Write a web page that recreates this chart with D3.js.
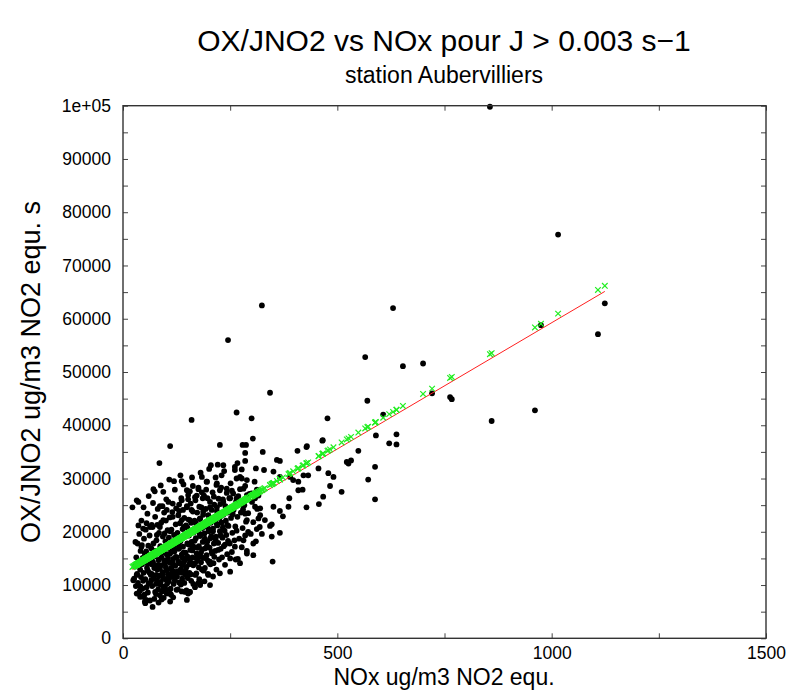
<!DOCTYPE html>
<html><head><meta charset="utf-8">
<script src="https://cdn.jsdelivr.net/npm/d3@7"></script>
<style>
body{margin:0;background:#fff}
svg{display:block}
text{font-family:"Liberation Sans",Arial,Helvetica,sans-serif;fill:#000}
</style>
</head><body>
<svg id="chart" width="786" height="690"></svg>
<script>
// ---------- data ----------
const titleText = "OX/JNO2 vs NOx pour J > 0.003 s\u22121";
const subtitleText = "station Aubervilliers";
const xTitle = "NOx ug/m3 NO2 equ.";
const yTitle = "OX/JNO2 ug/m3 NO2 equ. s";

const xTicks = [0,250,500,750,1000,1250,1500];
const xLabels = [0,500,1000,1500];
const yTicks = [0,5000,10000,15000,20000,25000,30000,35000,40000,45000,50000,55000,60000,65000,70000,75000,80000,85000,90000,95000,100000];
const yLabels = [0,10000,20000,30000,40000,50000,60000,70000,80000,90000,100000];

// linear regression line (red) : [intercept, slope]
const regCoef = [11850, 47.4];
// fitted values (green crosses) : [intercept, slope]
const fitCoef = [12340, 47.9];

// observations [NOx, OX/JNO2]
const outliers = [
[856,99800],[1015,75800],[324,62500],[630,62000],[245,56000],[565,52800],[1124,62900],[975,58800],
[1108,57100],[653,51100],[700,51600],[721,46000],[767,44900],[763,45300],[860,40800],[961,42800]
];
const midPoints = [
[343,46100],[300,41300],[477,41300],[570,44600],[607,42000],[638,38300],[621,36600],[638,36400],
[590,38100],[465,37100],[303,37500],[279,36300],[429,36100],[407,35200],[326,35000],[549,35200],
[522,33100],[532,33400],[588,32200],[359,33500],[366,33300],[285,33300],[310,31900],[329,31600],
[456,31900],[479,31000],[491,30300],[277,30000],[572,29800],[351,31300],[366,30300],[390,30300],
[397,29700],[421,30600],[432,30600],[409,29400],[419,27900],[409,27800],[483,28600],[510,27500],
[588,26100],[467,26600],[457,25200],[428,24600],[388,26300],[386,24700],[366,23900],[373,22900],
[351,24700],[347,21400],[343,21100],[316,22500],[304,17800],[304,15600],[349,14400],[366,19800],
[347,19100],[324,19600],[312,20500],[289,22200],[320,23100],[331,22200],[285,23400],[308,24700],
[320,24400],[289,26600],[300,27200],[312,27900],[285,28600],[308,26300],[281,25000],[277,31700],
[285,34800],[265,42400],[466,37200],[526,32800],[428,35900]
];
const lowPoints = [
[160,41000],[110,36100],[226,36300],[287,36300],[85,32900],[205,32500],[234,32500],[267,32900],
[261,31600],[230,30600],[265,30000],[289,29700],[184,30300],[119,29500],[137,29500],[195,29400],
[163,28600],[71,28000],[94,27500],[149,27800],[176,28000],[219,29100],[226,27800],[242,28100],
[254,27700],[273,28000],[137,25900],[152,26900],[168,26500],[186,26300],[197,26300],[212,26600],
[234,25600],[250,26300],[265,26300],[289,26900],[32,25900],[22,24600],[106,25600],[86,24800],
[102,24100],[116,22800],[131,23900],[149,24600],[160,24100],[178,24700],[187,23800],[203,24600],
[219,24600],[226,22800],[156,22200],[137,22200],[180,22500],[203,22200],[94,22200],[63,20900],
[86,20900],[36,25600],[47,20600],[43,17200],[24,10900],[32,8400],[69,5900],[156,8700],[180,10300],
[44,17500],[67,21300],[79,19400],[51,15900],[32,11900],[36,8400],[47,7800],[54,7200],[41,9700],
[63,10300],[75,8700],[94,9700],[110,8400],[125,9100],[152,8400],[149,7200],[110,6900],[90,7300],
[180,10000],[203,10000],[199,11900],[226,12200],[250,12500],[203,14400],[250,15000],[273,14100],
[289,15900],[261,17200],[281,18400],[292,20000],[40,7800],[51,6900],[86,8100],[102,8400],[145,8700]
];
const corePoints = [
[26,11200],[28,13500],[30,9800],[31,15200],[33,12100],[34,17800],[35,10400],[37,14300],[38,19600],[39,8900],
[40,12900],[41,16400],[42,11500],[43,22100],[44,13900],[45,9300],[29,18100],[36,21200],
[46,15100],[47,10800],[48,12300],[49,18700],[50,8200],[51,14200],[52,11100],[53,20400],[54,16300],[55,9600],
[56,13200],[57,23400],[58,12700],[59,17400],[60,10300],[61,15700],[62,19300],[63,7100],[64,14800],[65,11900],
[48,24600],[55,21600],[60,26700],[52,6600],[58,8600],
[66,16900],[67,12100],[68,9800],[69,20900],[70,14300],[71,17800],[72,11300],[73,7400],[74,15400],[75,22800],
[76,13600],[77,10200],[78,18400],[79,16200],[80,12900],[81,24300],[82,9200],[83,14700],[84,19800],[85,11700],
[70,25400],[74,27600],[77,8300],[80,21300],[83,6700],[67,13900],[72,15900],[79,10900],
[86,13100],[87,17300],[88,10600],[89,21700],[90,15200],[91,8800],[92,12400],[93,19100],[94,16400],[95,11200],
[96,23600],[97,14100],[98,9700],[99,18200],[100,13300],[101,26100],[102,15800],[103,10300],[104,20300],[105,12000],
[88,28700],[92,24800],[95,7600],[98,16900],[100,22100],[103,14600],[90,11800],[97,19700],[101,9100],[104,17100],
[106,14400],[107,18900],[108,11300],[109,22700],[110,15900],[111,9300],[112,13200],[113,20400],[114,17100],[115,12300],
[116,25300],[117,14900],[118,10200],[119,19400],[120,16300],[121,27900],[122,13600],[123,21400],[124,11700],[125,18100],
[108,29800],[112,8200],[115,23700],[118,16700],[121,10900],[124,24400],[110,20100],[113,12900],[117,7700],[123,15300],
[126,15200],[127,19800],[128,12600],[129,23100],[130,16800],[131,10500],[132,14100],[133,21600],[134,18200],[135,13000],
[136,26300],[137,15700],[138,11200],[139,20500],[140,17200],[141,28900],[142,14300],[143,22600],[144,12100],[145,19300],
[128,9200],[131,25100],[134,30600],[137,8800],[140,24100],[143,10400],[130,17900],[136,12300],[139,15100],[142,20900],
[146,16100],[147,21200],[148,13400],[149,24800],[150,17800],[151,11300],[152,14900],[153,22300],[154,19300],[155,13900],
[156,27600],[157,16600],[158,12000],[159,21700],[160,18100],[161,30200],[162,15200],[163,23800],[164,10200],[165,19900],
[148,9000],[152,26100],[156,8700],[160,14100],[163,17300],[150,20800],[158,25300],[146,12800],
[166,17100],[167,22100],[168,14100],[169,25900],[170,18800],[171,12200],[172,15900],[173,23600],[174,20400],[175,14600],
[176,28300],[177,17300],[178,11100],[179,22400],[180,19200],[181,31100],[182,16100],[183,24600],[184,12900],[185,20700],
[168,9600],[172,26800],[176,10400],[180,15400],[184,27400],[170,21600],
[186,18100],[187,23200],[188,15100],[189,26800],[190,19700],[191,13200],[192,16900],[193,24300],[194,21100],[195,15600],
[196,29400],[197,18200],[198,12100],[199,23100],[200,20100],[201,31800],[202,17000],[203,25600],[204,13900],[205,21700],
[190,10700],[194,27900],[198,14600],[202,22600],
[206,19200],[207,24100],[208,15900],[209,27400],[210,20600],[211,14100],[212,17800],[213,25100],[214,22100],[215,16400],
[216,30200],[217,19100],[218,12900],[219,23900],[220,21200],[221,32600],[222,17900],[223,26200],[224,14800],[225,22600],
[210,11600],[218,28800],
[226,20100],[227,25200],[228,16800],[229,28300],[230,21700],[231,15200],[232,18900],[233,26100],[234,23200],[235,17300],
[236,31400],[237,20200],[238,13800],[239,24800],[240,22100],[241,19400],[242,27300],[243,15800],[244,23600],[245,18300],
[246,21100],[248,26300],[249,17800],[251,29100],[252,22600],[254,16200],[255,19800],[257,27200],[258,24100],[260,18400],
[261,32200],[262,21000],[263,14800],[264,25700],[265,20200],[256,23300],
[267,22800],[269,26700],[271,18700],[273,30300],[275,23600],[277,17100],[279,20700],[281,28100],[283,25000],[285,19300],
[287,21900],[289,16400],[268,14900],[280,24200],
[292,23500],[295,27100],[298,19600],[301,25600],[304,21800],[307,29400],[310,18200],[313,24300],[316,26800],[319,20900]
];
const densePoints = [
[58,14100],[62,12300],[66,10900],[69,15200],[73,13200],[76,16400],[78,11900],[82,13800],[85,15900],[87,10100],
[89,13700],[91,16100],[93,12100],[96,14600],[99,11100],[102,12800],[105,15100],[107,10700],[109,14200],[111,16800],
[114,11600],[116,14100],[119,12500],[122,17500],[126,11600],[129,14400],[132,17100],[135,10100],[138,13700],[141,16100],
[144,14700],[147,11900],[150,15400],[153,17600],[155,12300],[157,14300],[159,10800],[162,16500],[164,13700],[167,18300],
[169,11900],[171,15100],[174,17000],[177,13300],[179,19600],[182,14300],[185,16700],[188,12700],[191,18700],[193,15100],
[196,17400],[199,20600],[201,14200],[204,18800],[207,16200],[210,20100],[213,15300],[216,18600],[219,21500],[222,16600],
[228,19300],[233,20800],[238,17600],[243,21300]
];

// ---------- drawing ----------
const svg = d3.select("#chart");
const X0 = 123, X1 = 766, Y0 = 638.3, Y1 = 105.7;
const x = d3.scaleLinear().domain([0,1500]).range([X0,X1]);
const y = d3.scaleLinear().domain([0,100000]).range([Y0,Y1]);
const obs = corePoints.concat(densePoints, lowPoints, midPoints, outliers);

const fmtY = d => d === 100000 ? "1e+05" : d3.format("d")(d);
const fmtX = d => xLabels.includes(d) ? String(d) : "";
const fmtYL = d => yLabels.includes(d) ? fmtY(d) : "";

const tickLen = 5;
function styleAxis(g){
  g.select(".domain").remove();
  g.selectAll(".tick line").attr("stroke","#444").attr("stroke-width",1);
  g.selectAll(".tick text").attr("font-size",17.5).attr("fill","#000")
   .style("font-family","'Liberation Sans',Arial,Helvetica,sans-serif");
}
svg.append("g").attr("transform",`translate(0,${Y0})`)
  .call(d3.axisBottom(x).tickValues(xTicks).tickFormat(fmtX).tickSizeInner(-tickLen).tickSizeOuter(0).tickPadding(8))
  .call(styleAxis);
svg.append("g").attr("transform",`translate(0,${Y1})`)
  .call(d3.axisTop(x).tickValues(xTicks).tickFormat("").tickSizeInner(-tickLen).tickSizeOuter(0))
  .call(styleAxis);
svg.append("g").attr("transform",`translate(${X0},0)`)
  .call(d3.axisLeft(y).tickValues(yTicks).tickFormat(fmtYL).tickSizeInner(-tickLen).tickSizeOuter(0).tickPadding(12))
  .call(styleAxis);
svg.append("g").attr("transform",`translate(${X1},0)`)
  .call(d3.axisRight(y).tickValues(yTicks).tickFormat("").tickSizeInner(-tickLen).tickSizeOuter(0))
  .call(styleAxis);

// points
svg.append("g").selectAll("circle").data(obs).join("circle")
  .attr("cx", d => x(d[0])).attr("cy", d => y(d[1])).attr("r", 2.9).attr("fill","#000");

// regression line
const xmin = d3.min(obs, d => d[0]), xmax = d3.max(obs, d => d[0]);
svg.append("line")
  .attr("x1", x(xmin)).attr("y1", y(regCoef[0] + regCoef[1]*xmin))
  .attr("x2", x(xmax)).attr("y2", y(regCoef[0] + regCoef[1]*xmax))
  .attr("stroke","#ff2020").attr("stroke-width",1);

// fitted values as green crosses
const cs = 2.8;
svg.append("g").selectAll("path").data(obs).join("path")
  .attr("d", d => {
    const px = x(d[0]), py = y(fitCoef[0] + fitCoef[1]*d[0]);
    return `M${px-cs},${py-cs}L${px+cs},${py+cs}M${px-cs},${py+cs}L${px+cs},${py-cs}`;
  })
  .attr("stroke","#22ee22").attr("stroke-width",1.2).attr("fill","none");

// frame
svg.append("rect").attr("x",X0).attr("y",Y1).attr("width",X1-X0).attr("height",Y0-Y1)
  .attr("fill","none").attr("stroke","#333").attr("stroke-width",1.4);

// titles
svg.append("text").attr("x",444).attr("y",51).attr("text-anchor","middle")
  .attr("font-size",30).text(titleText);
svg.append("text").attr("x",444).attr("y",83).attr("text-anchor","middle")
  .attr("font-size",23).text(subtitleText);
svg.append("text").attr("x",444).attr("y",685).attr("text-anchor","middle")
  .attr("font-size",23).text(xTitle);
svg.append("text").attr("transform",`translate(40,${(Y0+Y1)/2}) rotate(-90)`)
  .attr("text-anchor","middle").attr("font-size",27).text(yTitle);
</script>
</body></html>
